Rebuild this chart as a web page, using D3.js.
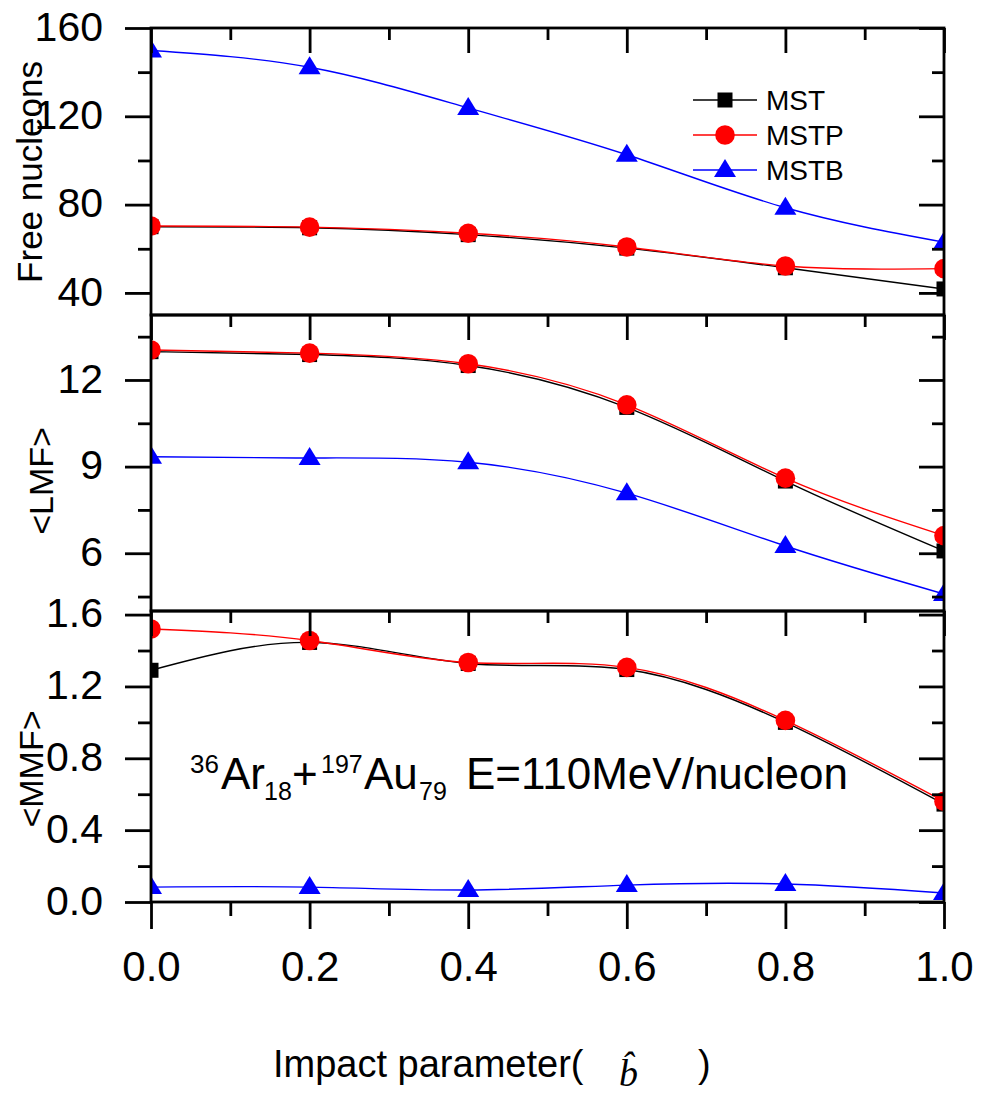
<!DOCTYPE html>
<html>
<head>
<meta charset="utf-8">
<script src="https://cdn.jsdelivr.net/npm/d3@7"></script>
<style>
  html, body { margin: 0; padding: 0; background: #fff; }
  svg { display: block; font-family: Arial, "Liberation Sans", sans-serif; }
</style>
</head>
<body>
<svg id="chart" width="982" height="1105"></svg>
<script>
// Impact parameter (reduced, b-hat) sampled on every panel
const impactParams = [0, 0.2, 0.4, 0.6, 0.8, 1.0];

// Free nucleons
const freeMST  = [70.0, 69.5, 66.4, 60.3, 51.4, 41.8];
const freeMSTP = [70.3, 69.8, 67.0, 60.8, 52.2, 51.0];
const freeMSTB = [149.8, 142.2, 123.8, 102.6, 78.6, 63.0];

// <LMF>
const lmfMST  = [12.98, 12.88, 12.50, 11.05, 8.50, 6.08];
const lmfMSTP = [13.04, 12.93, 12.56, 11.14, 8.60, 6.61];
const lmfMSTB = [9.34, 9.30, 9.15, 8.08, 6.25, 4.59];

// <MMF>
const mmfMST  = [1.29, 1.445, 1.328, 1.294, 1.00, 0.545];
const mmfMSTP = [1.52, 1.456, 1.333, 1.306, 1.011, 0.56];
const mmfMSTB = [0.083, 0.083, 0.067, 0.094, 0.10, 0.05];

// Series names and tick values
const seriesNames = ["MST", "MSTP", "MSTB"];
const xMajorTicks = [0, 0.2, 0.4, 0.6, 0.8, 1.0];
const xMinorTicks = [0.1, 0.3, 0.5, 0.7, 0.9];
const freeMajorTicks = [40, 80, 120, 160];
const freeMinorTicks = [60, 100, 140];
const lmfMajorTicks = [6, 9, 12];
const lmfMinorTicks = [4.5, 7.5, 10.5, 13.5];
const mmfMajorTicks = [0, 0.4, 0.8, 1.2, 1.6];
const mmfMinorTicks = [0.2, 0.6, 1.0, 1.4];

// ---- layout ----
const svg = d3.select("#chart");
const left = 151, right = 944;
const colors = { MST: "#000000", MSTP: "#ff0000", MSTB: "#0000ff" };
const frameW = 2.8;

const x = d3.scaleLinear().domain([0, 1]).range([left, right]);

const panels = [
  { id: "free", top: 28, bottom: 315, domain: [30, 160],
    major: freeMajorTicks, minor: freeMinorTicks, fmt: d3.format("d"),
    title: "Free nucleons", titleX: 42, titleY: 172, titleSize: 35,
    series: [freeMST, freeMSTP, freeMSTB] },
  { id: "lmf", top: 315, bottom: 611, domain: [4, 14.25],
    major: lmfMajorTicks, minor: lmfMinorTicks, fmt: d3.format("d"),
    title: "<LMF>", titleX: 53, titleY: 481, titleSize: 34,
    series: [lmfMST, lmfMSTP, lmfMSTB] },
  { id: "mmf", top: 611, bottom: 902, domain: [0, 1.62],
    major: mmfMajorTicks, minor: mmfMinorTicks, fmt: d3.format(".1f"),
    title: "<MMF>", titleX: 43, titleY: 769, titleSize: 34,
    series: [mmfMST, mmfMSTP, mmfMSTB] }
];

// marker drawing helpers
function drawMarker(sel, name, cx, cy) {
  if (name === "MST") {
    sel.append("rect").attr("x", cx - 7.5).attr("y", cy - 7.5)
      .attr("width", 15).attr("height", 15).attr("fill", colors.MST);
  } else if (name === "MSTP") {
    sel.append("circle").attr("cx", cx).attr("cy", cy).attr("r", 9.8)
      .attr("fill", colors.MSTP);
  } else {
    sel.append("path")
      .attr("d", `M${cx},${cy - 11} L${cx + 11},${cy + 7} L${cx - 11},${cy + 7} Z`)
      .attr("fill", colors.MSTB);
  }
}

function styleAxis(g) {
  g.select(".domain").remove();
  g.selectAll(".tick line").attr("stroke", "#000").attr("stroke-width", frameW);
  g.selectAll(".tick text").attr("fill", "#000");
}

panels.forEach(p => {
  const y = d3.scaleLinear().domain(p.domain).range([p.bottom, p.top]);
  const clipId = "clip-" + p.id;
  svg.append("clipPath").attr("id", clipId)
    .append("rect").attr("x", left).attr("y", p.top)
    .attr("width", right - left).attr("height", p.bottom - p.top);

  const plot = svg.append("g").attr("clip-path", `url(#${clipId})`);
  const line = d3.line()
    .x((d, i) => x(impactParams[i]))
    .y(d => y(d))
    .curve(d3.curveNatural);

  p.series.forEach((vals, si) => {
    const name = seriesNames[si];
    plot.append("path").datum(vals)
      .attr("d", line)
      .attr("fill", "none")
      .attr("stroke", colors[name])
      .attr("stroke-width", 1.4);
    const mg = plot.append("g");
    vals.forEach((v, i) => drawMarker(mg, name, x(impactParams[i]), y(v)));
  });

  // left axis: outward ticks with labels
  svg.append("g").attr("transform", `translate(${left},0)`)
    .call(d3.axisLeft(y).tickValues(p.major).tickSize(26).tickPadding(22).tickFormat(p.fmt))
    .call(styleAxis)
    .call(g => g.selectAll("text").attr("font-size", 41).attr("font-family", "Arial, 'Liberation Sans', sans-serif").attr("dy", "0.3em"));
  svg.append("g").attr("transform", `translate(${left},0)`)
    .call(d3.axisLeft(y).tickValues(p.minor).tickSize(13).tickFormat(""))
    .call(styleAxis);

  // right axis: inward ticks
  svg.append("g").attr("transform", `translate(${right},0)`)
    .call(d3.axisLeft(y).tickValues(p.major).tickSize(25).tickFormat(""))
    .call(styleAxis);
  svg.append("g").attr("transform", `translate(${right},0)`)
    .call(d3.axisLeft(y).tickValues(p.minor).tickSize(12).tickFormat(""))
    .call(styleAxis);

  // top edge: inward ticks
  svg.append("g").attr("transform", `translate(0,${p.top})`)
    .call(d3.axisBottom(x).tickValues(xMajorTicks).tickSize(25).tickFormat(""))
    .call(styleAxis);
  svg.append("g").attr("transform", `translate(0,${p.top})`)
    .call(d3.axisBottom(x).tickValues(xMinorTicks).tickSize(12).tickFormat(""))
    .call(styleAxis);

  // frame
  svg.append("rect").attr("x", left).attr("y", p.top)
    .attr("width", right - left).attr("height", p.bottom - p.top)
    .attr("fill", "none").attr("stroke", "#000").attr("stroke-width", frameW);

  // y title
  svg.append("text")
    .attr("transform", `translate(${p.titleX},${p.titleY}) rotate(-90)`)
    .attr("text-anchor", "middle")
    .attr("font-size", p.titleSize)
    .text(p.title);
});

// bottom axis: outward ticks with labels
const lastBottom = panels[2].bottom;
svg.append("g").attr("transform", `translate(0,${lastBottom})`)
  .call(d3.axisBottom(x).tickValues(xMajorTicks).tickSize(27).tickPadding(22).tickFormat(d3.format(".1f")))
  .call(styleAxis)
  .call(g => g.selectAll("text").attr("font-size", 42).attr("font-family", "Arial, 'Liberation Sans', sans-serif"));
svg.append("g").attr("transform", `translate(0,${lastBottom})`)
  .call(d3.axisBottom(x).tickValues(xMinorTicks).tickSize(14).tickFormat(""))
  .call(styleAxis);

// legend
const legend = svg.append("g");
seriesNames.forEach((name, i) => {
  const cy = 100 + i * 35;
  legend.append("line").attr("x1", 693).attr("x2", 757).attr("y1", cy).attr("y2", cy)
    .attr("stroke", colors[name]).attr("stroke-width", 1.4);
  drawMarker(legend, name, 725, cy);
  legend.append("text").attr("x", 766).attr("y", cy + 10)
    .attr("font-size", 28).text(name);
});

// reaction annotation
const ann = svg.append("text").attr("y", 789).attr("font-size", 44);
ann.append("tspan").attr("x", 190).attr("y", 773).attr("font-size", 26).text("36");
ann.append("tspan").attr("x", 221).attr("y", 789).text("Ar");
ann.append("tspan").attr("x", 264).attr("y", 800).attr("font-size", 25).text("18");
ann.append("tspan").attr("x", 292).attr("y", 789).text("+");
ann.append("tspan").attr("x", 321).attr("y", 773).attr("font-size", 25).text("197");
ann.append("tspan").attr("x", 364).attr("y", 789).text("Au");
ann.append("tspan").attr("x", 419).attr("y", 800).attr("font-size", 25).text("79");
ann.append("tspan").attr("x", 466).attr("y", 789).text("E=110MeV/nucleon");

// x-axis title
const xt = svg.append("text").attr("y", 1077).attr("font-size", 38);
xt.append("tspan").attr("x", 273).text("Impact parameter(");
xt.append("tspan").attr("x", 619).attr("y", 1086)
  .attr("font-family", "'Liberation Serif', 'Times New Roman', serif")
  .attr("font-style", "italic").text("b\u0302");
xt.append("tspan").attr("x", 698).attr("y", 1077).text(")");
</script>
</body>
</html>
